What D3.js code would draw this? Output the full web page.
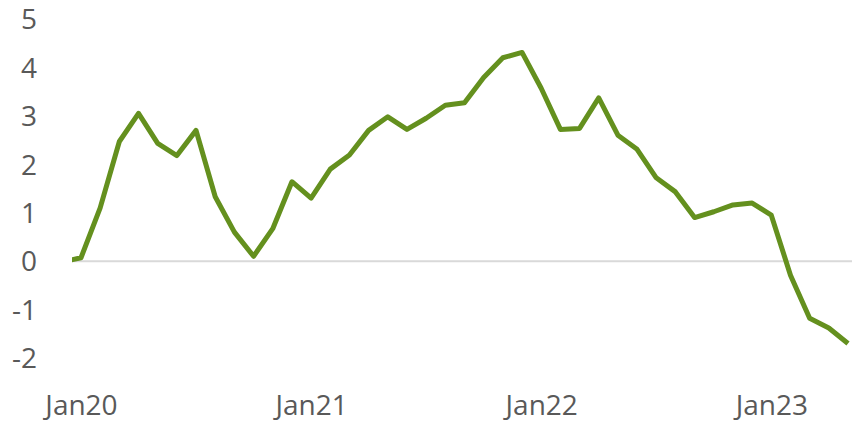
<!DOCTYPE html>
<html>
<head>
<meta charset="utf-8">
<script src="https://cdn.jsdelivr.net/npm/d3@7"></script>
<style>
	body { margin: 0; background: #fff; }
	svg text { font-family: "Open Sans", "Noto Sans", sans-serif; fill: #595959; }
</style>
</head>
<body>
<div id="chart"></div>
<script>
//Chart values, monthly from Dec19 to May23
var months = ["Dec19",
	"Jan20","Feb20","Mar20","Apr20","May20","Jun20","Jul20","Aug20","Sep20","Oct20","Nov20","Dec20",
	"Jan21","Feb21","Mar21","Apr21","May21","Jun21","Jul21","Aug21","Sep21","Oct21","Nov21","Dec21",
	"Jan22","Feb22","Mar22","Apr22","May22","Jun22","Jul22","Aug22","Sep22","Oct22","Nov22","Dec22",
	"Jan23","Feb23","Mar23","Apr23","May23"];
var values = [-0.02,
	0.07, 1.1, 2.47, 3.05, 2.43, 2.18, 2.7, 1.33, 0.6, 0.1, 0.67, 1.64,
	1.3, 1.9, 2.19, 2.7, 2.98, 2.72, 2.95, 3.22, 3.27, 3.79, 4.2, 4.31,
	3.57, 2.72, 2.74, 3.37, 2.6, 2.31, 1.72, 1.43, 0.9, 1.02, 1.16, 1.2,
	0.95, -0.29, -1.18, -1.38, -1.7];
var xTicks = ["Jan20","Jan21","Jan22","Jan23"];
var yTicks = [-2,-1,0,1,2,3,4,5];

var w = 852, h = 425;
var plotLeft = 72;

var svg = d3.select("#chart").append("svg")
	.attr("width", w)
	.attr("height", h);

//Month index scale: Jan20 -> index 1
var x = d3.scaleLinear()
	.domain([1, months.length - 1])
	.range([81, 848]);

var y = d3.scaleLinear()
	.domain([-2, 5])
	.range([358, 19]);

svg.append("defs").append("clipPath")
	.attr("id", "plot-clip")
	.append("rect")
	.attr("x", plotLeft)
	.attr("y", 0)
	.attr("width", w - plotLeft)
	.attr("height", h);

//Y tick labels (plain hyphen for negatives)
var yAxis = svg.append("g")
	.attr("transform", "translate(37,0)")
	.call(d3.axisLeft(y).tickValues(yTicks).tickSize(0).tickPadding(0).tickFormat(function(d) { return String(d); }));
yAxis.select(".domain").remove();
yAxis.selectAll("text")
	.attr("font-size", 28)
	.attr("font-family", null)
	.attr("fill", null)
	.attr("dy", "0.35em");

//Zero line
svg.append("line")
	.attr("x1", plotLeft)
	.attr("x2", w)
	.attr("y1", y(0))
	.attr("y2", y(0))
	.attr("stroke", "#d9d9d9")
	.attr("stroke-width", 2);

//X tick labels
var xAxis = svg.append("g")
	.attr("transform", "translate(0,405)")
	.call(d3.axisBottom(x)
		.tickValues(xTicks.map(function(d) { return months.indexOf(d); }))
		.tickSize(0)
		.tickPadding(0)
		.tickFormat(function(i) { return months[i]; }));
xAxis.select(".domain").remove();
xAxis.selectAll("text")
	.attr("font-size", 28)
	.attr("font-family", null)
	.attr("fill", null)
	.attr("dy", "0.35em");

//Series line
var line = d3.line()
	.x(function(d, i) { return x(i); })
	.y(function(d) { return y(d); });

svg.append("path")
	.datum(values)
	.attr("clip-path", "url(#plot-clip)")
	.attr("fill", "none")
	.attr("stroke", "#64901e")
	.attr("stroke-width", 5)
	.attr("stroke-linejoin", "round")
	.attr("d", line);
</script>
</body>
</html>
